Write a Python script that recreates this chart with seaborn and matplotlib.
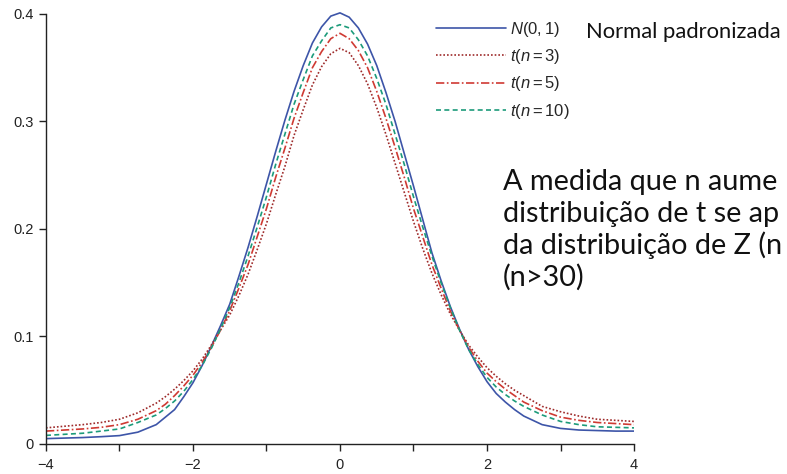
import numpy as np
import pandas as pd
import matplotlib
matplotlib.use("Agg")
import matplotlib.pyplot as plt
import seaborn as sns

# ── Data ────────────────────────────────────────────────────────────────────
x_vals = [-4.0, -3.75, -3.5, -3.25, -3.0, -2.75, -2.5,
          -2.375, -2.25, -2.125, -2.0, -1.875, -1.75, -1.625, -1.5, -1.375,
          -1.25, -1.125, -1.0, -0.875, -0.75, -0.625, -0.5, -0.375, -0.25,
          -0.125, 0.0, 0.125, 0.25, 0.375, 0.5, 0.625, 0.75, 0.875, 1.0,
          1.125, 1.25, 1.375, 1.5, 1.625, 1.75, 1.875, 2.0, 2.125, 2.25, 2.375,
          2.5, 2.75, 3.0, 3.25, 3.5, 3.75, 4.0]

normal_01 = [0.005, 0.0055, 0.006, 0.0068, 0.0078, 0.011, 0.018,
             0.025, 0.032, 0.044, 0.057, 0.073, 0.091, 0.110, 0.130, 0.156,
             0.183, 0.212, 0.242, 0.272, 0.301, 0.328, 0.352, 0.373, 0.388,
             0.398, 0.401, 0.397, 0.387, 0.372, 0.352, 0.327, 0.300, 0.270, 0.240,
             0.209, 0.178, 0.152, 0.128, 0.107, 0.088, 0.072, 0.058, 0.047, 0.039, 0.032,
             0.026, 0.018, 0.0145, 0.013, 0.0125, 0.012, 0.012]

t_n3 = [0.015, 0.0165, 0.018, 0.020, 0.023, 0.029, 0.038,
        0.044, 0.051, 0.059, 0.068, 0.079, 0.092, 0.106, 0.120, 0.138,
        0.158, 0.181, 0.205, 0.232, 0.258, 0.287, 0.311, 0.334, 0.351,
        0.363, 0.368, 0.364, 0.352, 0.335, 0.313, 0.288, 0.261, 0.234, 0.207,
        0.182, 0.159, 0.139, 0.121, 0.106, 0.092, 0.081, 0.071, 0.063, 0.056, 0.050,
        0.045, 0.035, 0.030, 0.026, 0.023, 0.022, 0.021]

t_n5 = [0.012, 0.013, 0.014, 0.0155, 0.018, 0.023, 0.031,
        0.037, 0.045, 0.054, 0.064, 0.076, 0.090, 0.106, 0.124, 0.145,
        0.167, 0.193, 0.219, 0.248, 0.275, 0.303, 0.327, 0.350, 0.365,
        0.377, 0.382, 0.377, 0.366, 0.350, 0.328, 0.303, 0.276, 0.248, 0.219,
        0.193, 0.167, 0.145, 0.124, 0.106, 0.090, 0.077, 0.066, 0.058, 0.051, 0.045,
        0.039, 0.031, 0.025, 0.022, 0.020, 0.019, 0.018]

t_n10 = [0.008, 0.009, 0.010, 0.012, 0.014, 0.020, 0.027,
         0.033, 0.040, 0.049, 0.060, 0.073, 0.089, 0.107, 0.127, 0.150,
         0.175, 0.202, 0.230, 0.260, 0.288, 0.316, 0.339, 0.361, 0.375,
         0.387, 0.390, 0.387, 0.376, 0.361, 0.340, 0.316, 0.288, 0.260, 0.230,
         0.202, 0.175, 0.150, 0.127, 0.106, 0.088, 0.074, 0.062, 0.053, 0.046, 0.040,
         0.035, 0.027, 0.021, 0.018, 0.016, 0.0155, 0.015]

series_labels = [r"$N(0,1)$", r"$t(n=3)$", r"$t(n=5)$", r"$t(n=10)$"]
series_values = [normal_01, t_n3, t_n5, t_n10]

x_ticks = [-4, -3, -2, -1, 0, 1, 2, 3, 4]
x_tick_labels = ["\u22124", "", "\u22122", "", "0", "", "2", "", "4"]
y_ticks = [0, 0.1, 0.2, 0.3, 0.4]
y_tick_labels = ["0", "0.1", "0.2", "0.3", "0.4"]

note_side = "Normal padronizada"
# the reference cuts this note off at the right edge; keep what is visible
note_lines = ["A medida que n aume",
              "distribuição de t se ap",
              "da distribuição de Z (n",
              "(n>30)"]

# ── Styling ─────────────────────────────────────────────────────────────────
sns.set_style("white")
plt.rcParams["font.family"] = ["Liberation Sans", "DejaVu Sans"]
plt.rcParams["mathtext.fontset"] = "custom"
plt.rcParams["mathtext.rm"] = "Liberation Sans"
plt.rcParams["mathtext.it"] = "Liberation Sans:italic"

colors = ["#3d55a8", "#9e2b2b", "#cf3a33", "#1c9b7a"]
styles = [dict(linestyle="-"),
          dict(linestyle=(0, (1, 1.2))),
          dict(linestyle=(0, (5, 1.5, 1, 1.5))),
          dict(linestyle=(0, (3, 2)))]

fig = plt.figure(figsize=(7.87, 4.74), dpi=100)
ax = fig.add_axes([0.0584, 0.0633, 0.7472, 0.9186])

for lab, vals, col, st in zip(series_labels, series_values, colors, styles):
    df = pd.DataFrame({"x": x_vals, "y": vals})
    sns.lineplot(data=df, x="x", y="y", ax=ax, color=col, linewidth=1.2,
                 label=lab, **st)

ax.set_xlim(-4, 4)
ax.set_ylim(0, 0.405)
ax.set_xticks(x_ticks)
ax.set_xticklabels(x_tick_labels)
ax.set_yticks(y_ticks)
ax.set_yticklabels(y_tick_labels)
ax.set_xlabel("")
ax.set_ylabel("")

for side in ["top", "right"]:
    ax.spines[side].set_visible(False)
for side in ["left", "bottom"]:
    ax.spines[side].set_color("#222222")
    ax.spines[side].set_linewidth(1.0)
ax.spines["left"].set_bounds(0, 0.4)
ax.tick_params(axis="both", direction="out", length=5, width=1.0,
               color="#222222", labelsize=10.5, labelcolor="#222222",
               left=True, bottom=True)
ax.tick_params(axis="x", pad=5)
ax.tick_params(axis="y", pad=4)

ax.legend(loc="upper left", bbox_to_anchor=(429 / 787, 1 - 13 / 474),
          bbox_transform=fig.transFigure, frameon=False,
          fontsize=12, handlelength=4.2, handletextpad=0.25,
          labelspacing=0.5, borderaxespad=0, borderpad=0.4)

fig.text(586 / 787, 1 - 38 / 474, note_side, fontsize=15.8, family="Lato",
         va="baseline", ha="left", color="#111111")
for i, line in enumerate(note_lines):
    fig.text(503 / 787, 1 - (190 + 32 * i) / 474, line, fontsize=20.8,
             family="Lato", va="baseline", ha="left", color="#111111")

fig.savefig("out.png", dpi=100)
